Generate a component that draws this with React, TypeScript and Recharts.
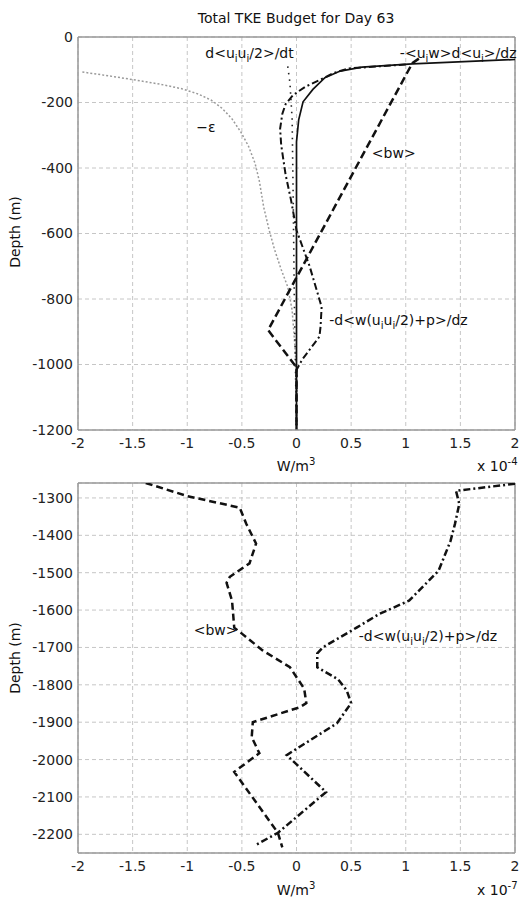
import React from "react";
import {
  CartesianGrid,
  Line,
  LineChart,
  ReferenceDot,
  ReferenceLine,
  XAxis,
  YAxis,
} from "recharts";

// values; x in units of 1e-4 (top) and 1e-7 (bottom) W/m^3
const xTicks = [-2, -1.5, -1, -0.5, 0, 0.5, 1, 1.5, 2];
const topDepthTicks = [0, -200, -400, -600, -800, -1000, -1200];
const bottomDepthTicks = [-1300, -1400, -1500, -1600, -1700, -1800, -1900, -2000, -2100, -2200];

const dissipation = [
  { x: -1.96, y: -107 }, { x: -1.75, y: -117 }, { x: -1.5, y: -130 }, { x: -1.25, y: -144 },
  { x: -1.05, y: -158 }, { x: -0.9, y: -174 }, { x: -0.78, y: -193 }, { x: -0.68, y: -218 },
  { x: -0.59, y: -250 }, { x: -0.51, y: -290 }, { x: -0.44, y: -333 }, { x: -0.38, y: -385 },
  { x: -0.34, y: -440 }, { x: -0.3, y: -520 }, { x: -0.25, y: -590 }, { x: -0.2, y: -650 },
  { x: -0.14, y: -710 }, { x: -0.08, y: -763 }, { x: -0.04, y: -834 }, { x: -0.02, y: -920 },
  { x: 0, y: -1020 }, { x: 0, y: -1200 },
];

const tendency = [
  { x: -0.08, y: -90 }, { x: -0.06, y: -140 }, { x: -0.04, y: -250 }, { x: -0.03, y: -500 },
  { x: -0.02, y: -800 }, { x: -0.01, y: -1000 }, { x: 0, y: -1200 },
];

const shearProduction = [
  { x: 2.05, y: -68 }, { x: 1.06, y: -82 }, { x: 0.6, y: -92 }, { x: 0.4, y: -104 },
  { x: 0.26, y: -124 }, { x: 0.15, y: -160 }, { x: 0.06, y: -198 }, { x: 0.02, y: -253 },
  { x: 0, y: -320 }, { x: 0, y: -1200 },
];

const fluxDivTop = [
  { x: 1.0, y: -84 }, { x: 0.48, y: -96 }, { x: 0.34, y: -110 }, { x: 0.22, y: -130 },
  { x: 0.08, y: -152 }, { x: -0.03, y: -177 }, { x: -0.1, y: -205 }, { x: -0.13, y: -235 },
  { x: -0.15, y: -280 }, { x: -0.14, y: -330 }, { x: -0.1, y: -420 }, { x: -0.05, y: -498 },
  { x: 0, y: -590 }, { x: 0.12, y: -700 }, { x: 0.23, y: -824 }, { x: 0.22, y: -885 },
  { x: 0.21, y: -915 }, { x: 0.05, y: -986 }, { x: 0, y: -1017 }, { x: 0, y: -1200 },
];

const buoyancyTop = [
  { x: 1.12, y: -66 }, { x: 1.06, y: -80 }, { x: -0.26, y: -895 }, { x: -0.02, y: -1000 },
  { x: 0, y: -1010 }, { x: 0, y: -1200 },
];

const buoyancyBottom = [
  { x: -1.38, y: -1260 }, { x: -1.0, y: -1295 }, { x: -0.52, y: -1326 }, { x: -0.46, y: -1369 },
  { x: -0.37, y: -1422 }, { x: -0.43, y: -1475 }, { x: -0.61, y: -1511 }, { x: -0.64, y: -1527 },
  { x: -0.59, y: -1575 }, { x: -0.57, y: -1647 }, { x: -0.5, y: -1663 }, { x: -0.31, y: -1708 },
  { x: -0.06, y: -1753 }, { x: 0.07, y: -1810 }, { x: 0.09, y: -1849 }, { x: 0.03, y: -1860 },
  { x: -0.4, y: -1900 }, { x: -0.41, y: -1940 }, { x: -0.34, y: -1983 }, { x: -0.57, y: -2033 },
  { x: -0.17, y: -2196 }, { x: -0.13, y: -2235 },
];

const fluxDivBottom = [
  { x: 2.0, y: -1262 }, { x: 1.46, y: -1281 }, { x: 1.49, y: -1316 }, { x: 1.45, y: -1370 },
  { x: 1.41, y: -1415 }, { x: 1.3, y: -1495 }, { x: 1.03, y: -1575 }, { x: 0.76, y: -1610 },
  { x: 0.55, y: -1647 }, { x: 0.24, y: -1700 }, { x: 0.19, y: -1716 }, { x: 0.19, y: -1753 },
  { x: 0.38, y: -1785 }, { x: 0.46, y: -1815 }, { x: 0.5, y: -1849 }, { x: 0.37, y: -1903 },
  { x: -0.09, y: -1988 }, { x: 0.27, y: -2087 }, { x: -0.17, y: -2196 }, { x: -0.37, y: -2228 },
];

// label text, [piece, 0 normal | 1 subscript | 2 superscript]
type Part = [string, number];
const tendencyLabel: Part[] = [["d<u", 0], ["i", 1], ["u", 0], ["i", 1], ["/2>/dt", 0]];
const shearLabel: Part[] = [["-<u", 0], ["i", 1], ["w>d<u", 0], ["i", 1], [">/dz", 0]];
const epsLabel: Part[] = [["\u2212\u03b5", 0]];
const bwLabel: Part[] = [["<bw>", 0]];
const fluxLabel: Part[] = [["-d<w(u", 0], ["i", 1], ["u", 0], ["i", 1], ["/2)+p>/dz", 0]];

const FONT = '"DejaVu Sans", Verdana, sans-serif';
const INK = "#111";

function Rich({ x, y, parts, anchor = "start", size = 14 }: any) {
  let shift = 0;
  const spans = parts.map(([t, k]: Part, i: number) => {
    const target = k === 1 ? 4 : k === 2 ? -6 : 0;
    const el = (
      <tspan key={i} dy={target - shift} fontSize={k ? size * 0.72 : size}>
        {t}
      </tspan>
    );
    shift = target;
    return el;
  });
  return (
    <text x={x} y={y} textAnchor={anchor} fontFamily={FONT} fontSize={size} fill={INK}>
      {spans}
    </text>
  );
}

function Anno({ viewBox, parts, anchor }: any) {
  const vb = viewBox || { x: 0, y: 0, width: 0, height: 0 };
  return <Rich x={vb.x + (vb.width || 0) / 2} y={vb.y + (vb.height || 0) / 2} parts={parts} anchor={anchor} />;
}

const tickStyle = { fill: "#222", fontSize: 14, fontFamily: FONT };
const axisLine = { stroke: "#999", strokeWidth: 1.5 };

function Panel({ top, height, marginTop, yDomain, yTicks, children }: any) {
  return (
    <div style={{ position: "absolute", left: 0, top, width: 519, height }}>
      <LineChart width={519} height={height} margin={{ top: marginTop, right: 4, bottom: 20, left: 0 }}>
        <CartesianGrid stroke="#c6c6c6" strokeDasharray="4 3" />
        <XAxis
          type="number"
          dataKey="x"
          domain={[-2, 2]}
          ticks={xTicks}
          allowDataOverflow
          height={30}
          tickLine={false}
          axisLine={axisLine}
          tick={tickStyle}
        />
        <YAxis
          type="number"
          domain={yDomain}
          ticks={yTicks}
          allowDataOverflow
          width={78}
          tickLine={false}
          tickSize={3}
          axisLine={axisLine}
          tick={tickStyle}
        />
        <ReferenceLine x={2} stroke="#999" strokeWidth={1.5} />
        <ReferenceLine y={yDomain[1]} stroke="#999" strokeWidth={1.5} />
        {children}
      </LineChart>
    </div>
  );
}

function series(data: any[], name: string, stroke: string, width: number, dash?: string) {
  return (
    <Line
      key={name}
      name={name}
      data={data}
      dataKey="y"
      type="linear"
      stroke={stroke}
      strokeWidth={width}
      strokeDasharray={dash}
      dot={false}
      activeDot={false}
      isAnimationActive={false}
    />
  );
}

function note(x: number, y: number, parts: Part[], anchor = "middle") {
  return (
    <ReferenceDot
      key={parts.map((p) => p[0]).join("") + x}
      x={x}
      y={y}
      r={0}
      fill="none"
      stroke="none"
      label={<Anno parts={parts} anchor={anchor} />}
    />
  );
}

export default function App() {
  return (
    <div style={{ position: "absolute", left: 0, top: 0, width: 519, height: 903, background: "#fff" }}>
      <Panel top={0} height={480} marginTop={37} yDomain={[-1200, 0]} yTicks={topDepthTicks}>
        {series(dissipation, "-eps", "#9a9a9a", 1.5, "2 2")}
        {series(tendency, "dEdt", "#222", 1.6, "1.5 5")}
        {series(shearProduction, "shear", INK, 1.7)}
        {series(fluxDivTop, "flux", INK, 2, "7 3 2 3")}
        {series(buoyancyTop, "bw", INK, 2.5, "8 4")}
        {note(-0.43, -64, tendencyLabel)}
        {note(1.48, -64, shearLabel)}
        {note(-0.83, -290, epsLabel)}
        {note(0.89, -369, bwLabel)}
        {note(0.3, -880, fluxLabel, "start")}
      </Panel>
      <Panel top={440} height={463} marginTop={43} yDomain={[-2250, -1260]} yTicks={bottomDepthTicks}>
        {series(buoyancyBottom, "bw", INK, 2.5, "7 4")}
        {series(fluxDivBottom, "flux", INK, 2.5, "7 3 2 3")}
        {note(-0.74, -1668, bwLabel)}
        {note(0.57, -1684, fluxLabel, "start")}
      </Panel>
      <svg
        width={519}
        height={903}
        style={{ position: "absolute", left: 0, top: 0, pointerEvents: "none" }}
      >
        <text x={296} y={23} textAnchor="middle" fontFamily={FONT} fontSize={14} fill={INK}>
          Total TKE Budget for Day 63
        </text>
        <Rich x={296} y={471} anchor="middle" parts={[["W/m", 0], ["3", 2]]} />
        <Rich x={477} y={471} parts={[["x 10", 0], ["-4", 2]]} />
        <Rich x={296} y={895} anchor="middle" parts={[["W/m", 0], ["3", 2]]} />
        <Rich x={477} y={895} parts={[["x 10", 0], ["-7", 2]]} />
        <text
          transform="rotate(-90 20 232)"
          x={20}
          y={232}
          textAnchor="middle"
          fontFamily={FONT}
          fontSize={14}
          fill={INK}
        >
          Depth (m)
        </text>
        <text
          transform="rotate(-90 20 658)"
          x={20}
          y={658}
          textAnchor="middle"
          fontFamily={FONT}
          fontSize={14}
          fill={INK}
        >
          Depth (m)
        </text>
      </svg>
    </div>
  );
}
